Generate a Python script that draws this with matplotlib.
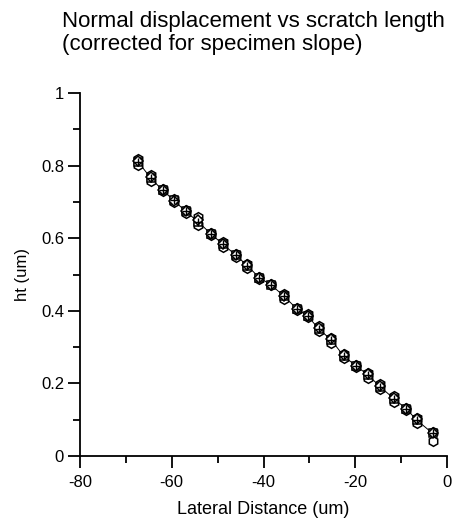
import matplotlib
matplotlib.use("Agg")
import matplotlib.pyplot as plt
from matplotlib.ticker import MultipleLocator

plt.rcParams['font.family'] = ['Liberation Sans', 'DejaVu Sans']

lateral = [-67.3, -64.6, -62.0, -59.5, -57.0, -54.2, -51.4, -48.8, -46.0, -43.5,
           -40.9, -38.4, -35.5, -32.8, -30.4, -28.0, -25.2, -22.5, -19.8, -17.2,
           -14.6, -11.5, -8.9, -6.6, -3.1]
ht_run1 = [0.818, 0.775, 0.736, 0.708, 0.678, 0.658, 0.614, 0.590, 0.557, 0.530,
           0.494, 0.474, 0.447, 0.409, 0.390, 0.358, 0.326, 0.282, 0.250, 0.230,
           0.198, 0.166, 0.132, 0.106, 0.066]
ht_run2 = [0.803, 0.758, 0.729, 0.699, 0.669, 0.636, 0.609, 0.577, 0.549, 0.518,
           0.488, 0.470, 0.433, 0.401, 0.382, 0.345, 0.312, 0.269, 0.246, 0.216,
           0.185, 0.148, 0.128, 0.092, 0.040]
ht_run3 = [0.810, 0.766, 0.732, 0.704, 0.674, 0.645, 0.611, 0.583, 0.553, 0.524,
           0.491, 0.472, 0.440, 0.406, 0.386, 0.351, 0.319, 0.275, 0.248, 0.223,
           0.191, 0.157, 0.130, 0.099, 0.062]
ht_run4 = [0.812, 0.770, 0.733, 0.703, 0.675, 0.650, 0.612, 0.585, 0.554, 0.526,
           0.490, 0.472, 0.442, 0.405, 0.387, 0.353, 0.321, 0.277, 0.248, 0.225,
           0.193, 0.160, 0.130, 0.101, 0.064]

fig = plt.figure(figsize=(4.64, 5.20), dpi=100)
ax = fig.add_axes([0.1724, 0.1231, 0.791, 0.698])

ax.plot(lateral, ht_run3, color='black', lw=0.7, zorder=1)
mk = dict(linestyle='none', markerfacecolor='white', markeredgecolor='black',
          markeredgewidth=1.1, zorder=2)
ax.plot(lateral, ht_run1, marker='h', markersize=7, **mk)
ax.plot(lateral, ht_run2, marker='h', markersize=7, **mk)
ax.plot(lateral, ht_run3, marker='s', markersize=5.5, **mk)
ax.plot(lateral, ht_run4, marker='D', markersize=5, **mk)
ax.plot(lateral, ht_run3, marker='+', markersize=6, linestyle='none',
        color='black', markeredgewidth=1.0, zorder=3)

ax.set_xlim(-80, 0)
ax.set_ylim(0, 1)
ax.xaxis.set_minor_locator(MultipleLocator(10))
ax.yaxis.set_minor_locator(MultipleLocator(0.1))
ax.set_yticks([0, 0.2, 0.4, 0.6, 0.8, 1.0])
ax.set_yticklabels(['0', '0.2', '0.4', '0.6', '0.8', '1'])
ax.set_xticks([-80, -60, -40, -20, 0])
ax.set_xticklabels(['-80', '-60', '-40', '-20', '0'])

for s in ['top', 'right']:
    ax.spines[s].set_visible(False)
for s in ['left', 'bottom']:
    ax.spines[s].set_linewidth(1.3)
ax.tick_params(which='major', direction='out', length=8.5, width=1.3, labelsize=12)
ax.tick_params(axis='x', which='major', pad=5)
ax.tick_params(axis='y', which='major', pad=3)
ax.tick_params(which='minor', direction='out', length=5, width=1.3)

ax.set_xlabel('Lateral Distance (um)', fontsize=13, labelpad=8)
ax.set_ylabel('ht (um)', fontsize=12, labelpad=8)

fig.text(0.134, 0.978, 'Normal displacement vs scratch length\n(corrected for specimen slope)',
         fontsize=16, ha='left', va='top', linespacing=1.12)

fig.savefig('out.png', dpi=100)
